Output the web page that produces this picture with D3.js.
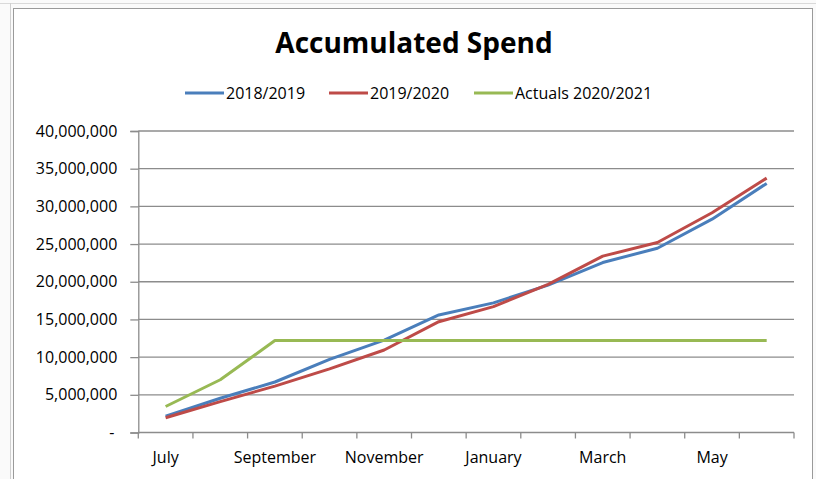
<!DOCTYPE html>
<html lang="en">
<head>
<meta charset="utf-8">
<title>Accumulated Spend</title>
<script src="https://d3js.org/d3.v7.min.js"></script>
<style>
	html, body { margin: 0; padding: 0; background: #fafafa; overflow: hidden; }
	svg { display: block; }
	text { font-family: "Open Sans", sans-serif; }
</style>
</head>
<body>
<div id="chart"></div>
<script>
	// Data
	const months = ["July", "August", "September", "October", "November", "December",
		"January", "February", "March", "April", "May", "June"];
	const spend1819 = [2150000, 4550000, 6700000, 9700000, 12250000, 15600000,
		17200000, 19550000, 22550000, 24450000, 28300000, 33050000];
	const spend1920 = [1950000, 4100000, 6150000, 8450000, 10950000, 14700000,
		16700000, 19650000, 23400000, 25200000, 29150000, 33750000];
	const actuals2021 = [3450000, 7000000, 12200000, 12200000, 12200000, 12200000,
		12200000, 12200000, 12200000, 12200000, 12200000, 12200000];
	const seriesNames = ["2018/2019", "2019/2020", "Actuals 2020/2021"];
	const yTicks = [0, 5000000, 10000000, 15000000, 20000000, 25000000, 30000000, 35000000, 40000000];

	const series = [
		{ name: seriesNames[0], values: spend1819, color: "#4a7ebb" },
		{ name: seriesNames[1], values: spend1920, color: "#be4b48" },
		{ name: seriesNames[2], values: actuals2021, color: "#98b954" }
	];

	// Dimensions
	const width = 816;
	const height = 479;
	const margin = { top: 131, right: 22, bottom: 46.5, left: 138.3 };
	const innerWidth = width - margin.left - margin.right;
	const innerHeight = height - margin.top - margin.bottom;

	// Spreadsheet frame: a plain div with a border, chart svg inside it
	const frame = d3.select("#chart")
		.style("position", "absolute")
		.style("left", "13px")
		.style("top", "8px")
		.style("width", "800px")
		.style("height", "480px")
		.style("background", "#fff")
		.style("border", "1px solid #9a9a9a")
		.style("box-sizing", "border-box");

	d3.select("body").append("div")
		.style("position", "absolute")
		.style("left", "0").style("top", "3px")
		.style("width", `${width}px`).style("height", "1px")
		.style("background", "#d9d9d9");
	d3.select("body").append("div")
		.style("position", "absolute")
		.style("left", "10px").style("top", "3px")
		.style("width", "1px").style("height", `${height}px`)
		.style("background", "#d0d0d0");

	const svg = frame
		.append("svg")
		.attr("width", 798)
		.attr("height", 470)
		.attr("viewBox", `14 9 798 470`);

	const bounds = svg.append("g")
		.attr("transform", `translate(${margin.left}, ${margin.top})`);

	// Scales
	const xScale = d3.scaleBand()
		.domain(months)
		.range([0, innerWidth]);

	const yScale = d3.scaleLinear()
		.domain([0, 40000000])
		.range([innerHeight, 0]);

	// Gridlines
	bounds.append("g")
		.selectAll("line")
		.data(yTicks.filter(d => d > 0))
		.join("line")
		.attr("x1", 0)
		.attr("x2", innerWidth)
		.attr("y1", d => yScale(d))
		.attr("y2", d => yScale(d))
		.attr("stroke", "#8c8c8c")
		.attr("stroke-width", 1.3);

	// Y axis
	const yAxis = d3.axisLeft(yScale)
		.tickValues(yTicks)
		.tickSize(8)
		.tickPadding(13)
		.tickFormat(d => d === 0 ? "-" : d3.format(",")(d));

	const yAxisG = bounds.append("g").call(yAxis);
	yAxisG.attr("font-family", null).attr("font-size", null);
	yAxisG.select(".domain").attr("stroke", "#8c8c8c").attr("stroke-width", 1.3);
	yAxisG.selectAll(".tick line").attr("stroke", "#8c8c8c").attr("stroke-width", 1.3);
	yAxisG.selectAll("text")
		.attr("font-size", "16px")
		.attr("fill", "#000");
	yAxisG.selectAll(".tick")
		.filter(d => d === 0)
		.select("text")
		.attr("dx", "-3px");

	// X axis: band edges as ticks, every other month labelled
	const xAxisG = bounds.append("g")
		.attr("transform", `translate(0, ${innerHeight})`);
	xAxisG.append("line")
		.attr("x1", 0).attr("x2", innerWidth)
		.attr("stroke", "#8c8c8c").attr("stroke-width", 1.3);
	xAxisG.selectAll(".xtick")
		.data(months.concat(["end"]))
		.join("line")
		.attr("class", "xtick")
		.attr("x1", (d, i) => i < months.length ? xScale(d) : innerWidth)
		.attr("x2", (d, i) => i < months.length ? xScale(d) : innerWidth)
		.attr("y1", 0).attr("y2", 6)
		.attr("stroke", "#8c8c8c").attr("stroke-width", 1.3);
	xAxisG.selectAll(".xlabel")
		.data(months.filter((d, i) => i % 2 === 0))
		.join("text")
		.attr("class", "xlabel")
		.attr("x", d => xScale(d) + xScale.bandwidth() / 2)
		.attr("y", 30)
		.attr("text-anchor", "middle")
		.attr("font-size", "16px")
		.attr("fill", "#000")
		.text(d => d);

	// Lines
	const line = d3.line()
		.x((d, i) => xScale(months[i]) + xScale.bandwidth() / 2)
		.y(d => yScale(d));

	bounds.selectAll(".series")
		.data(series)
		.join("path")
		.attr("class", "series")
		.attr("d", d => line(d.values))
		.attr("fill", "none")
		.attr("stroke", d => d.color)
		.attr("stroke-width", 3)
		.attr("stroke-linejoin", "round");

	// Title
	svg.append("text")
		.attr("x", 414)
		.attr("y", 53)
		.attr("text-anchor", "middle")
		.attr("font-size", "28px")
		.attr("font-weight", "bold")
		.attr("fill", "#000")
		.text("Accumulated Spend");

	// Legend
	const legendX = [185, 329, 474];
	const legend = svg.selectAll(".legend")
		.data(series)
		.join("g")
		.attr("class", "legend")
		.attr("transform", (d, i) => `translate(${legendX[i]}, 93)`);
	legend.append("line")
		.attr("x1", 0).attr("x2", 39)
		.attr("stroke", d => d.color)
		.attr("stroke-width", 3);
	legend.append("text")
		.attr("x", 41)
		.attr("dy", "0.35em")
		.attr("font-size", "16px")
		.attr("fill", "#000")
		.text(d => d.name);
</script>
</body>
</html>
